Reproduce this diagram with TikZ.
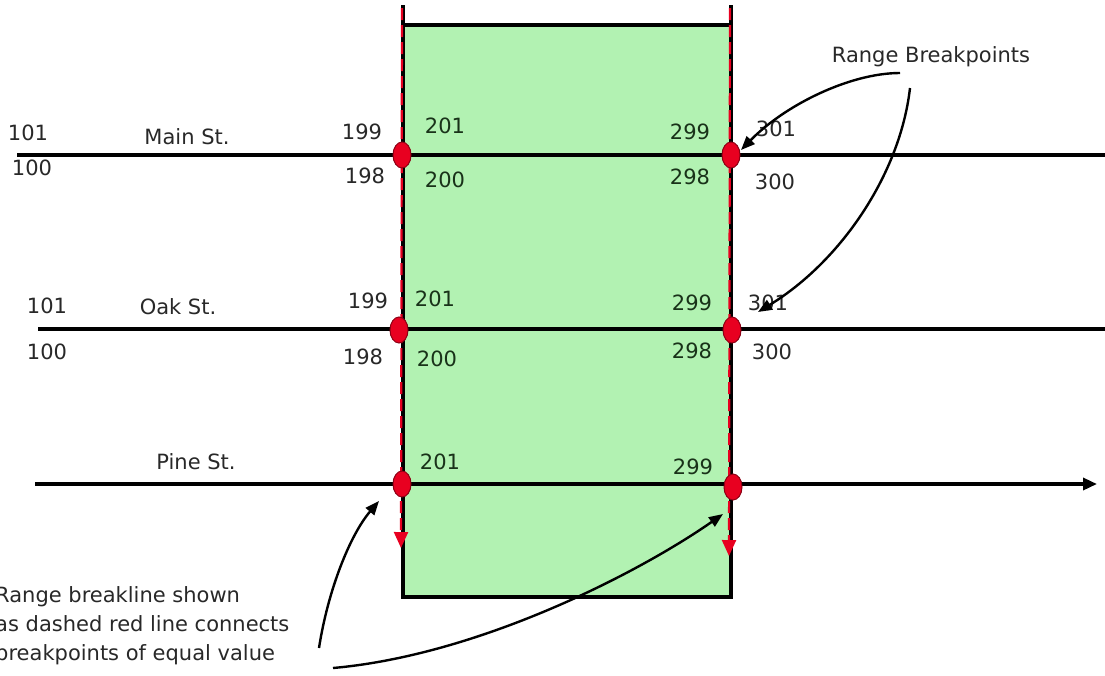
\documentclass[tikz,border=0pt]{standalone}
\usepackage{fontspec}
\setmainfont{DejaVu Sans}
\usetikzlibrary{arrows.meta,shapes.geometric}
\definecolor{zone}{RGB}{178,242,178}
\definecolor{dotred}{RGB}{232,0,32}
\definecolor{dotedge}{RGB}{140,0,20}
\definecolor{txt}{RGB}{40,40,40}
\definecolor{txtin}{RGB}{25,50,25}
\tikzset{
  lbl/.style={font=\fontsize{21}{24}\selectfont, text=txt, inner sep=0pt},
  lblin/.style={lbl, text=txtin},
  street/.style={line width=3.3pt, draw=black},
  border/.style={line width=3.3pt, draw=black},
  bp/.style={ellipse, draw=dotedge, fill=dotred, line width=1pt, minimum width=18pt, minimum height=26pt, inner sep=0pt},
  breakline/.style={draw=dotred, line width=2.2pt, dash pattern=on 12pt off 5pt, -{Triangle[length=16pt,width=14pt]}},
  callout/.style={draw=black, line width=2.4pt, -{Triangle[length=14pt,width=11pt]}},
}
\begin{document}
\begin{tikzpicture}[x=1pt,y=-1pt]
\useasboundingbox (0,0) rectangle (1105,675);
% green zone
\fill[zone] (403,25) rectangle (731,597);
\coordinate (LT) at (403,5);
\coordinate (LB) at (403,597);
\coordinate (RT) at (731,5);
\coordinate (RB) at (731,597);
\draw[border] (LT) -- (LB) -- (RB) -- (RT);
\draw[border] (403,25) -- (731,25);
% streets
\coordinate (mainW) at (17,155);
\coordinate (mainE) at (1105,155);
\coordinate (oakW) at (38,329);
\coordinate (oakE) at (1105,329);
\coordinate (pineW) at (35,484);
\coordinate (pineE) at (1097,484);
\draw[street] (mainW) -- (mainE);
\draw[street] (oakW) -- (oakE);
\draw[street, -{Triangle[length=14pt,width=12pt]}] (pineW) -- (pineE);
% breaklines
\coordinate (blLT) at (402,8);
\coordinate (blLB) at (401,548);
\coordinate (blRT) at (730,8);
\coordinate (blRB) at (729,556);
\draw[breakline] (blLT) -- (blLB);
\draw[breakline] (blRT) -- (blRB);
% breakpoints
\node[bp] (m1) at (402,155) {};
\node[bp] (m2) at (731,155) {};
\node[bp] (o1) at (399,330) {};
\node[bp] (o2) at (732,330) {};
\node[bp] (p1) at (402,484) {};
\node[bp] (p2) at (733,487) {};
% Main St labels
\node[lbl] (mA) at (28,133) {101};
\node[lbl] (mB) at (32,168) {100};
\node[lbl] (mN) at (187,137) {Main St.};
\node[lbl] (m199) at (362,132) {199};
\node[lbl] (m198) at (365,176) {198};
\node[lblin] (m201) at (445,126) {201};
\node[lblin] (m200) at (445,180) {200};
\node[lblin] (m299) at (690,132) {299};
\node[lblin] (m298) at (690,177) {298};
\node[lbl] (m301) at (776,129) {301};
\node[lbl] (m300) at (775,182) {300};
% Oak St labels
\node[lbl] (oA) at (47,306) {101};
\node[lbl] (oB) at (47,352) {100};
\node[lbl] (oN) at (178,307) {Oak St.};
\node[lbl] (o199) at (368,301) {199};
\node[lbl] (o198) at (363,357) {198};
\node[lblin] (o201) at (435,299) {201};
\node[lblin] (o200) at (437,359) {200};
\node[lblin] (o299) at (692,303) {299};
\node[lblin] (o298) at (692,351) {298};
\node[lbl] (o301) at (768,303) {301};
\node[lbl] (o300) at (772,352) {300};
% Pine St labels
\node[lbl] (pN) at (196,462) {Pine St.};
\node[lblin] (p201) at (440,462) {201};
\node[lblin] (p299) at (693,467) {299};
% notes
\node[lbl] (rb) at (931,57) {Range Breakpoints};
\node[lbl, anchor=west, align=left, font=\fontsize{21}{29}\selectfont] (note) at (-5,626)
  {Range breakline shown\\as dashed red line connects\\breakpoints of equal value};
% callouts
\coordinate (c1s) at (900,73);
\coordinate (c1e) at (741,150);
\coordinate (c2s) at (910,88);
\coordinate (c2e) at (758,312);
\coordinate (c3s) at (319,648);
\coordinate (c3e) at (379,501);
\coordinate (c4s) at (333,668);
\coordinate (c4e) at (723,514);
\draw[callout] (c1s) .. controls (850,73) and (785,105) .. (c1e);
\draw[callout] (c2s) .. controls (900,175) and (840,262) .. (c2e);
\draw[callout] (c3s) .. controls (328,590) and (350,535) .. (c3e);
\draw[callout] (c4s) .. controls (480,655) and (640,572) .. (c4e);
\end{tikzpicture}
\end{document}
